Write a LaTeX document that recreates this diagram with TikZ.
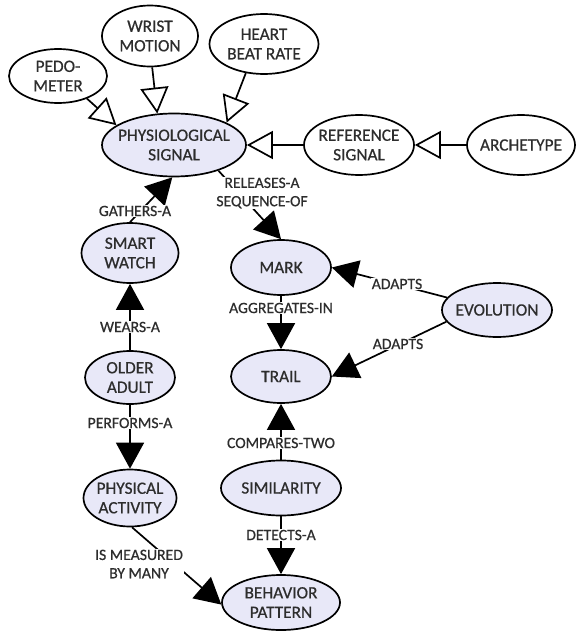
\documentclass[tikz,border=0pt]{standalone}
\usepackage{fontspec}
\setmainfont{Carlito}
\newfontfamily\diafont{Carlito}[FakeBold=0.6]
\usetikzlibrary{shapes.geometric,arrows.meta}
\definecolor{lav}{RGB}{232,232,248}
\definecolor{ink}{RGB}{45,45,45}
\begin{document}
\begin{tikzpicture}[x=1pt,y=-1pt,
 ent/.style={ellipse, draw=black, line width=1.7pt, inner sep=0pt, fill=lav},
 plainent/.style={ent, fill=white},
 txt/.style={font=\diafont\fontsize{17.3}{19.5}\selectfont, text=ink, align=center, inner sep=0pt},
 lbl/.style={font=\diafont\fontsize{15.7}{18.3}\selectfont, text=ink, align=center, fill=white, inner sep=1pt},
 isa/.style={line width=1.7pt, -{Triangle[open, length=26pt, width=28pt, fill=white, line width=1.7pt]}},
 rel/.style={line width=1.7pt, -{Triangle[length=26pt, width=28pt]}},
]
\useasboundingbox (0,0) rectangle (576,631);

% entities
\node[plainent, minimum width=98pt, minimum height=54pt, label={[txt]center:{PEDO-\\METER}}] (pedo) at (58,76) {};
\node[plainent, minimum width=96pt, minimum height=61pt, label={[txt]center:{WRIST\\MOTION}}] (wrist) at (150,36) {};
\node[plainent, minimum width=109pt, minimum height=60pt, label={[txt]center:{HEART\\BEAT RATE}}] (heart) at (264,44) {};
\node[ent, minimum width=144pt, minimum height=63pt, label={[txt]center:{PHYSIOLOGICAL\\SIGNAL}}] (phys) at (174,145) {};
\node[plainent, minimum width=110pt, minimum height=60pt, label={[txt]center:{REFERENCE\\SIGNAL}}] (ref) at (359,145) {};
\node[plainent, minimum width=108pt, minimum height=60pt, label={[txt]center:{ARCHETYPE}}] (arch) at (521,145) {};
\node[ent, minimum width=97pt, minimum height=60pt, label={[txt]center:{SMART\\WATCH}}] (smart) at (130,253) {};
\node[ent, minimum width=90pt, minimum height=53pt, label={[txt]center:{OLDER\\ADULT}}] (older) at (130,377.5) {};
\node[ent, minimum width=93pt, minimum height=57pt, label={[txt]center:{PHYSICAL\\ACTIVITY}}] (pact) at (130,498) {};
\node[ent, minimum width=100pt, minimum height=55pt, label={[txt]center:{MARK}}] (mark) at (281,267.5) {};
\node[ent, minimum width=100pt, minimum height=53pt, label={[txt]center:{TRAIL}}] (trail) at (281,376.5) {};
\node[ent, minimum width=110pt, minimum height=54pt, label={[txt]center:{EVOLUTION}}] (evol) at (497,310) {};
\node[ent, minimum width=120pt, minimum height=55pt, label={[txt]center:{SIMILARITY}}] (simil) at (281,488) {};
\node[ent, minimum width=118pt, minimum height=55pt, label={[txt]center:{BEHAVIOR\\PATTERN}}] (behav) at (281,602.5) {};

% is-a connectors
\draw[isa] (pedo.-38) -- (phys.161);
\draw[isa] (wrist.-86) -- (phys.118);
\draw[isa] (heart.238) -- (phys.23);
\draw[isa] (ref) -- (phys);
\draw[isa] (arch) -- (ref);

% relations
\draw[rel] (smart.north) -- (phys.-93);
\draw[rel] (older) -- (smart);
\draw[rel] (older) -- (pact);
\draw[rel] (pact.-86) -- (behav.182);
\draw[rel] (phys.-30) -- (mark.north);
\draw[rel] (mark) -- (trail);
\draw[rel] (evol.166) -- (mark.east);
\draw[rel] (evol.193) -- (trail.east);
\draw[rel] (simil) -- (trail);
\draw[rel] (simil) -- (behav);

% relation labels
\node[lbl] (lgath) at (135,211) {GATHERS-A};
\node[lbl] (lwear) at (130,327) {WEARS-A};
\node[lbl] (lperf) at (130,423) {PERFORMS-A};
\node[lbl] (lmeas) at (139,564) {IS MEASURED\\BY MANY};
\node[lbl] (lrel) at (262,193) {RELEASES-A\\SEQUENCE-OF};
\node[lbl] (lagg) at (281,308) {AGGREGATES-IN};
\node[lbl] (lad1) at (397,284) {ADAPTS};
\node[lbl] (lad2) at (398,344) {ADAPTS};
\node[lbl] (lcomp) at (281,443) {COMPARES-TWO};
\node[lbl] (ldet) at (281,535) {DETECTS-A};
\end{tikzpicture}
\end{document}
